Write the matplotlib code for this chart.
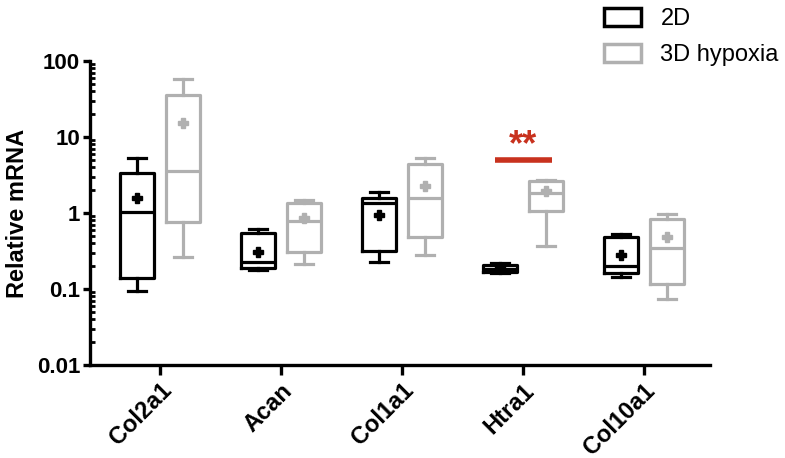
import numpy as np
import matplotlib.pyplot as plt
from matplotlib.patches import Patch

plt.rcParams['font.family'] = ['Liberation Sans', 'DejaVu Sans']

# genes on the x axis
genes = ['Col2a1', 'Acan', 'Col1a1', 'Htra1', 'Col10a1']

# box stats: whisker low, q1, median, q3, whisker high, mean
low_2d = [0.094, 0.18, 0.227, 0.16, 0.144]
q1_2d = [0.14, 0.19, 0.316, 0.165, 0.16]
med_2d = [1.03, 0.227, 1.35, 0.185, 0.20]
q3_2d = [3.36, 0.55, 1.57, 0.21, 0.48]
high_2d = [5.3, 0.62, 1.89, 0.22, 0.53]
mean_2d = [1.57, 0.31, 0.94, 0.19, 0.28]

low_3d = [0.26, 0.215, 0.28, 0.37, 0.074]
q1_3d = [0.76, 0.31, 0.48, 1.05, 0.115]
med_3d = [3.57, 0.78, 1.57, 1.85, 0.35]
q3_3d = [35.7, 1.35, 4.4, 2.65, 0.84]
high_3d = [58, 1.46, 5.3, 2.75, 0.97]
mean_3d = [15.3, 0.85, 2.27, 1.95, 0.48]

# significance (Htra1)
sig_gene = 3
sig_label = '**'
sig_line_y = 4.9
sig_text_y = 7.6

BLACK = '#000000'
GREY = '#b0b0b0'
RED = '#c8321e'


def make_stats(lo, q1, med, q3, hi, mn):
    stats = []
    for a, b, c, d, e, f in zip(lo, q1, med, q3, hi, mn):
        stats.append(dict(whislo=a, q1=b, med=c, q3=d, whishi=e, mean=f, fliers=[]))
    return stats


fig = plt.figure(figsize=(7.85, 4.58), dpi=100)
ax = fig.add_axes([0.1146, 0.203, 0.79, 0.664])

x = np.arange(len(genes))
offset = 0.19
lw = 2.3

for stats, color, pos in [
    (make_stats(low_2d, q1_2d, med_2d, q3_2d, high_2d, mean_2d), BLACK, x - offset),
    (make_stats(low_3d, q1_3d, med_3d, q3_3d, high_3d, mean_3d), GREY, x + offset),
]:
    ax.bxp(stats, positions=pos, widths=0.28, capwidths=0.15, showmeans=True,
           showfliers=False, manage_ticks=False,
           boxprops=dict(color=color, linewidth=lw),
           whiskerprops=dict(color=color, linewidth=lw),
           capprops=dict(color=color, linewidth=lw),
           medianprops=dict(color=color, linewidth=lw),
           meanprops=dict(marker='P', markerfacecolor=color, markeredgecolor=color,
                          markersize=7))

# significance bar
ax.plot([sig_gene - 0.23, sig_gene + 0.24], [sig_line_y, sig_line_y], color=RED,
        linewidth=4, solid_capstyle='butt')
ax.text(sig_gene, sig_text_y, sig_label, color=RED, fontsize=26, fontweight='bold',
        ha='center', va='center')

ax.set_yscale('log')
ax.set_ylim(0.01, 100)
ax.set_xlim(-0.58, 4.55)
ax.set_yticks([0.01, 0.1, 1, 10, 100])
ax.set_yticklabels(['0.01', '0.1', '1', '10', '100'], fontsize=16, fontweight='bold')
ax.set_xticks(x)
ax.set_xticklabels(genes, rotation=45, ha='right', rotation_mode='anchor',
                   fontsize=17, fontweight='bold')
ax.set_ylabel('Relative mRNA', fontsize=17, fontweight='bold', labelpad=6)

for side in ['top', 'right']:
    ax.spines[side].set_visible(False)
for side in ['left', 'bottom']:
    ax.spines[side].set_linewidth(2.4)
ax.tick_params(axis='y', which='major', length=5, width=2.4, direction='out', pad=2)
ax.tick_params(axis='y', which='minor', length=3.5, width=2, direction='in')
ax.tick_params(axis='x', which='major', length=7, width=2.4, direction='out', pad=3)

handles = [Patch(facecolor='white', edgecolor=BLACK, linewidth=2.5),
           Patch(facecolor='white', edgecolor=GREY, linewidth=2.5)]
fig.legend(handles, ['2D', '3D hypoxia'], loc='upper left',
           bbox_to_anchor=(0.742, 1.03), frameon=False, fontsize=17,
           handlelength=1.6, handleheight=0.8, handletextpad=0.8, labelspacing=0.6)

fig.savefig('out.png', dpi=100)
